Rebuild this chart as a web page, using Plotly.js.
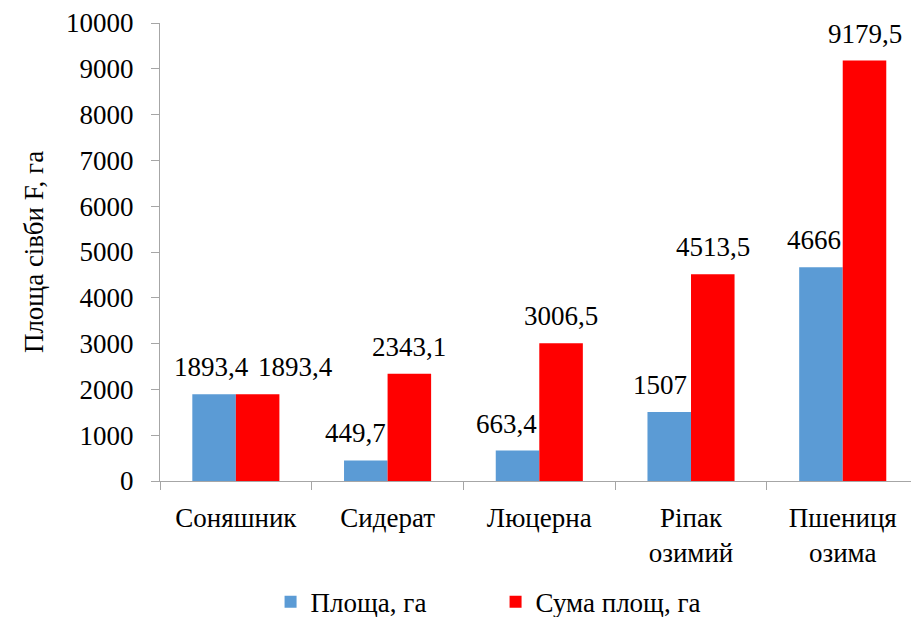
<!DOCTYPE html>
<html><head><meta charset="utf-8">
<script src="https://cdn.plot.ly/plotly-3.0.1.min.js"></script>
</head><body style="margin:0;padding:0;background:#fff;overflow:hidden">
<div id="c" style="width:911px;height:617px"></div>
<div style="font-family:'Liberation Serif';font-size:27px">Площа сівби F, га 0123456789 Соняшник</div>
<script>
const categories = ["Соняшник", "Сидерат", "Люцерна", "Ріпак<br>озимий", "Пшениця<br>озима"];
const areaValues = [1893.4, 449.7, 663.4, 1507, 4666];
const sumValues = [1893.4, 2343.1, 3006.5, 4513.5, 9179.5];
const areaLabels = ["1893,4", "449,7", "663,4", "1507", "4666"];
const sumLabels = ["1893,4", "2343,1", "3006,5", "4513,5", "9179,5"];
const seriesNames = ["Площа, га", "Сума площ, га"];
const yTicks = [0, 1000, 2000, 3000, 4000, 5000, 6000, 7000, 8000, 9000, 10000];

const F1 = "Liberation Serif";
const FS = 27;
const BLUE = "#5B9BD5", RED = "#FF0000";
const barHalf = 21.8;
// label nudges (style only)
const blueNudge = [-3, -10, -11, -9, -7];
const redNudge = [38, 0, 0, 0, 0];

const annotations = [];
categories.forEach((c, i) => {
  annotations.push({x: c, y: areaValues[i], xref: 'x', yref: 'y', text: areaLabels[i], showarrow: false,
    xanchor: 'center', yanchor: 'bottom', xshift: -barHalf + blueNudge[i], yshift: 10,
    font: {family: F1, size: FS, color: '#000'}});
  annotations.push({x: c, y: sumValues[i], xref: 'x', yref: 'y', text: sumLabels[i], showarrow: false,
    xanchor: 'center', yanchor: 'bottom', xshift: barHalf + redNudge[i], yshift: 10,
    font: {family: F1, size: FS, color: '#000'}});
});

const data = [
  {type: 'bar', x: categories, y: areaValues, name: seriesNames[0], marker: {color: BLUE}},
  {type: 'bar', x: categories, y: sumValues, name: seriesNames[1], marker: {color: RED}}
];

const layout = {
  width: 911, height: 617,
  margin: {l: 160, r: 0, t: 23, b: 136, autoexpand: false},
  paper_bgcolor: '#fff', plot_bgcolor: '#fff',
  barmode: 'group', bargap: 0.426, bargroupgap: 0,
  showlegend: true,
  legend: {orientation: 'h', xref: 'container', x: 0.297, xanchor: 'left',
    yref: 'container', y: 0.024, yanchor: 'middle',
    font: {family: F1, size: FS, color: '#000'}, itemwidth: 30, traceorder: 'normal',
    entrywidth: 180, entrywidthmode: 'pixels'},
  xaxis: {type: 'category', range: [-0.5, 4.45], showgrid: false, zeroline: false,
    showline: true, linecolor: '#A6A6A6', linewidth: 1.3,
    ticks: 'outside', tickson: 'boundaries', ticklen: 8, tickcolor: '#A6A6A6', tickwidth: 1.3,
    ticklabelstandoff: 12,
    tickfont: {family: F1, size: FS, color: '#000'}},
  yaxis: {range: [0, 10000], tickvals: yTicks, ticktext: yTicks.map(String),
    showgrid: false, zeroline: false, showline: true, linecolor: '#A6A6A6', linewidth: 1.3,
    ticks: 'outside', ticklen: 8, tickcolor: '#A6A6A6', tickwidth: 1.3, ticklabelstandoff: 12,
    tickfont: {family: F1, size: FS, color: '#000'},
    title: {text: 'Площа сівби F, га', font: {family: F1, size: FS, color: '#000'}, standoff: 14}},
  annotations: annotations
};

Plotly.newPlot('c', data, layout, {displayModeBar: false});
</script></body></html>
